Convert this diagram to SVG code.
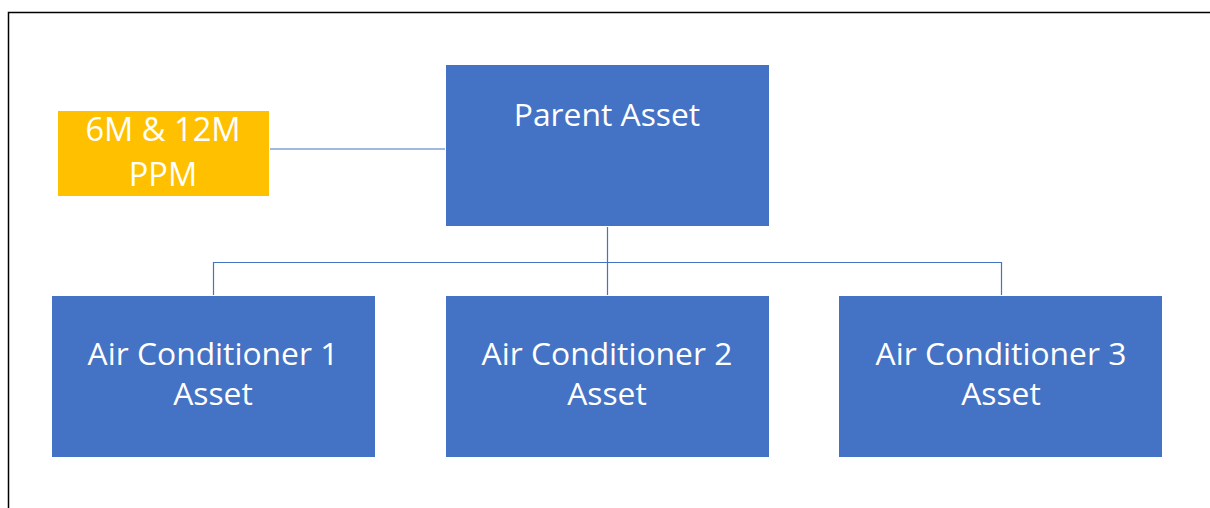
<svg xmlns="http://www.w3.org/2000/svg" width="1210" height="508" viewBox="0 0 1210 508">
<style>
.blue{fill:#4472C4;stroke:#ffffff;stroke-width:1}
.yel{fill:#FFC000;stroke:#ffffff;stroke-width:1}
.t{fill:#ffffff;font-family:"Open Sans","Noto Sans",sans-serif;font-size:31.8px;text-anchor:middle}
.ty{font-size:32.6px}
.c{fill:none;stroke:#4472C4;stroke-width:1.2}
</style>
<rect width="1210" height="508" fill="#ffffff"/>
<path d="M8.5 508 V12.5 H1210" fill="none" stroke="#000" stroke-width="1.5"/>
<g id="connectors">
<line class="c" x1="269" y1="149" x2="446" y2="149"/>
<line class="c" x1="607.5" y1="227" x2="607.5" y2="295"/>
<polyline class="c" points="213.5,295 213.5,262.5 1001.5,262.5 1001.5,295"/>
</g>
<g id="ppm">
<rect class="yel" x="57.5" y="110.5" width="212" height="86"/>
<text class="t ty" x="163" y="141">6M &amp; 12M</text>
<text class="t ty" x="163" y="185.5">PPM</text>
</g>
<g id="parent">
<rect class="blue" x="445.5" y="64.5" width="324" height="162"/>
<text class="t" x="607" y="126">Parent Asset</text>
</g>
<g id="ac1">
<rect class="blue" x="51.5" y="295.5" width="324" height="162"/>
<text class="t" x="213" y="365">Air Conditioner 1</text>
<text class="t" x="213" y="405">Asset</text>
</g>
<g id="ac2">
<rect class="blue" x="445.5" y="295.5" width="324" height="162"/>
<text class="t" x="607" y="365">Air Conditioner 2</text>
<text class="t" x="607" y="405">Asset</text>
</g>
<g id="ac3">
<rect class="blue" x="838.5" y="295.5" width="324" height="162"/>
<text class="t" x="1001" y="365">Air Conditioner 3</text>
<text class="t" x="1001" y="405">Asset</text>
</g>
</svg>
